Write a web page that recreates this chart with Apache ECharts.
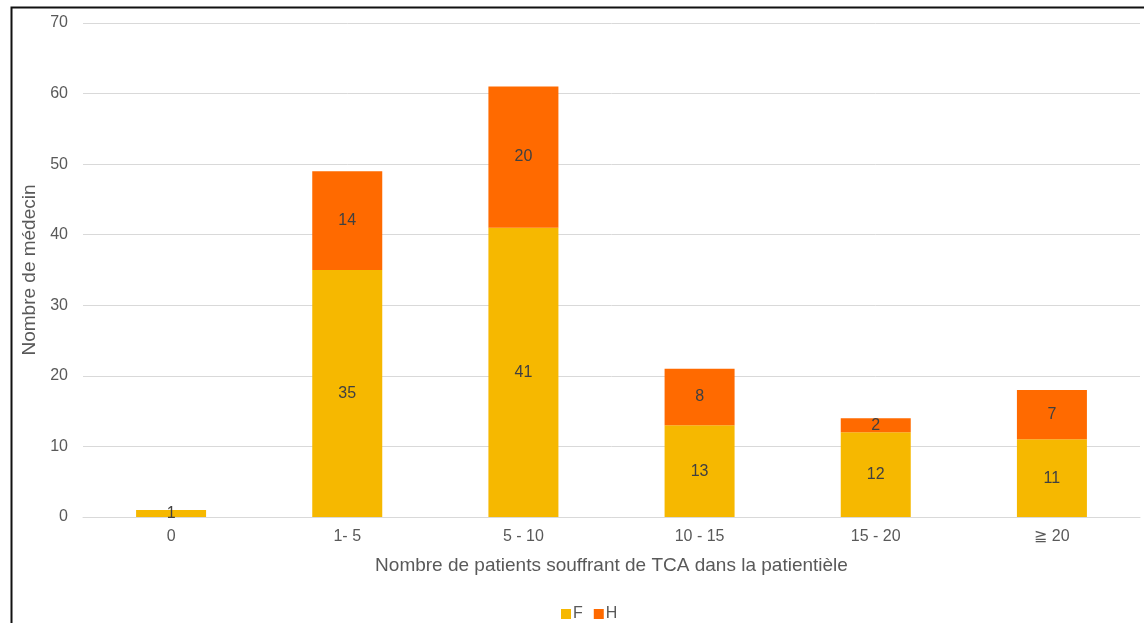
<!DOCTYPE html>
<html>
<head>
<meta charset="utf-8">
<script src="https://cdn.jsdelivr.net/npm/echarts@6/dist/echarts.min.js"></script>
<style>
  html, body { margin: 0; padding: 0; background: #fff; }
  #chart { width: 1144px; height: 623px; }
</style>
</head>
<body>
<div id="chart"></div>
<script>
// Nombre de médecins selon le nombre de patients TCA, par sexe du médecin
const categories = ['0', '1- 5', '5 - 10', '10 - 15', '15 - 20', '≧ 20'];
const femmes = [1, 35, 41, 13, 12, 11];
const hommes = [0, 14, 20, 8, 2, 7];
const yTicks = { min: 0, max: 70, interval: 10 };

const FONT = '"Liberation Sans", Arial, sans-serif';
const GREY = '#595959';

const chart = echarts.init(document.getElementById('chart'), null, { renderer: 'canvas' });

const labelStyle = {
  show: true,
  position: 'inside',
  color: '#404040',
  fontSize: 16,
  fontFamily: FONT,
  formatter: p => (p.value ? String(p.value) : '')
};

chart.setOption({
  animation: false,
  backgroundColor: '#fff',
  textStyle: { fontFamily: FONT },
  graphic: [{
    type: 'rect',
    left: 9, top: 5,
    shape: { width: 1200, height: 700 },
    style: { fill: 'none', stroke: '#111', lineWidth: 2 },
    z: 100
  }],
  grid: { left: 83, right: 4, top: 23, bottom: 106 },
  legend: {
    data: ['F', 'H'],
    left: 556,
    top: 601,
    itemWidth: 10,
    itemHeight: 10,
    itemGap: 11,
    icon: 'rect',
    textStyle: { color: GREY, fontSize: 16, fontFamily: FONT, padding: [0, 0, 0, -3] }
  },
  xAxis: {
    type: 'category',
    data: categories,
    name: 'Nombre de patients souffrant de TCA dans la patientièle',
    nameLocation: 'middle',
    nameGap: 39,
    nameTextStyle: { color: GREY, fontSize: 19, fontFamily: FONT },
    axisLine: { show: true, lineStyle: { color: '#d9d9d9', width: 1 } },
    axisTick: { show: false },
    axisLabel: { color: GREY, fontSize: 16, fontFamily: FONT, margin: 12 }
  },
  yAxis: {
    type: 'value',
    min: yTicks.min,
    max: yTicks.max,
    interval: yTicks.interval,
    name: 'Nombre de médecin',
    nameLocation: 'middle',
    nameRotate: 90,
    nameGap: 38,
    nameTextStyle: { color: GREY, fontSize: 19, fontFamily: FONT },
    axisLine: { show: false },
    axisTick: { show: false },
    axisLabel: { color: GREY, fontSize: 16, fontFamily: FONT, margin: 15 },
    splitLine: { lineStyle: { color: '#d9d9d9', width: 1 } }
  },
  series: [
    {
      name: 'F',
      type: 'bar',
      stack: 'total',
      data: femmes,
      barWidth: 70,
      itemStyle: { color: '#F6B800' },
      label: labelStyle
    },
    {
      name: 'H',
      type: 'bar',
      stack: 'total',
      data: hommes,
      barWidth: 70,
      itemStyle: { color: '#FF6A00' },
      label: labelStyle
    }
  ]
});
</script>
</body>
</html>
